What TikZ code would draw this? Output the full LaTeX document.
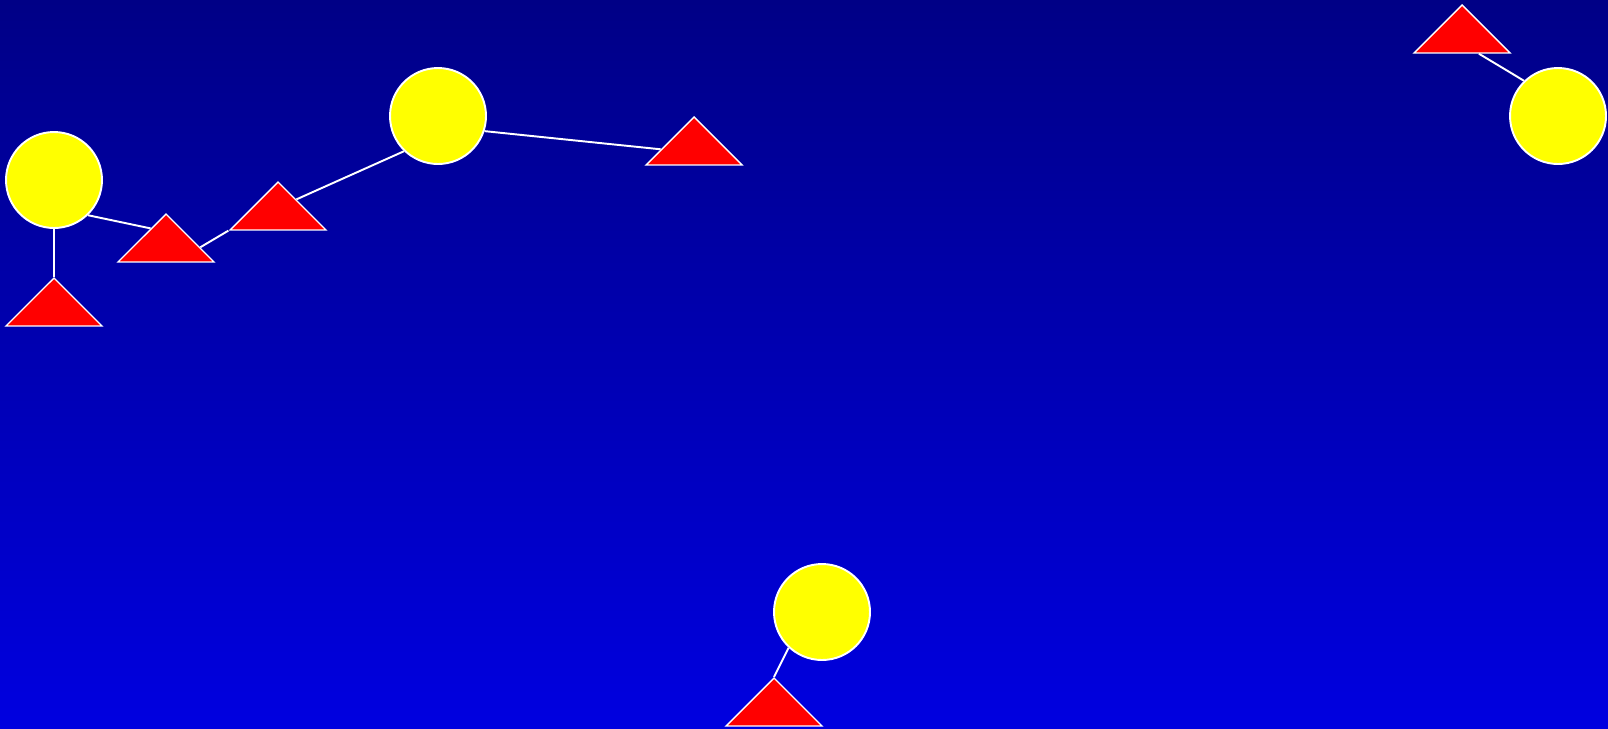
\documentclass[tikz,border=0pt]{standalone}
\usepackage{tikz}
\usetikzlibrary{
  shapes.geometric,
  calc,
}
\definecolor{skytop}{HTML}{000086}
\definecolor{skybottom}{HTML}{0000E0}
\definecolor{sunyellow}{HTML}{FFFF00}
\definecolor{peakred}{HTML}{FF0000}

\begin{document}
\begin{tikzpicture}[
    x=0.02cm, y=-0.02cm,
    sun/.style={circle, draw=white, fill=sunyellow, line width=1.1pt,
                minimum size=1.92cm, inner sep=0pt},
    peak/.style={isosceles triangle, isosceles triangle apex angle=90,
                 shape border rotate=90, draw=white, fill=peakred,
                 line width=0.8pt, inner sep=0pt, minimum height=0.96cm,
                 anchor=apex},
    link/.style={draw=white, line width=1.1pt},
  ]
  % sky
  \shade[top color=skytop, bottom color=skybottom] (0,0) rectangle (1608,728);
  \useasboundingbox (0,0) rectangle (1608,728);

  % suns
  \node[sun] (s1) at (54,180)   {};
  \node[sun] (s2) at (438,116)  {};
  \node[sun] (s3) at (1558,116) {};
  \node[sun] (s4) at (822,612)  {};

  % peaks, placed by their apex
  \node[peak] (pA) at (54,277)   {};
  \node[peak] (pB) at (166,213)  {};
  \node[peak] (pC) at (278,181)  {};
  \node[peak] (pD) at (694,116)  {};
  \node[peak] (pE) at (1462,4)   {};
  \node[peak] (pF) at (774,677)  {};

  \draw[link] (s1.south) -- (pA.apex);
  \draw[link] (s1.-46) -- ($(pB.apex)!0.31!(pB.left corner)$);
  \draw[link] ($(pB.apex)!0.69!(pB.right corner)$) -- (pC.left corner);
  \draw[link] ($(pC.apex)!0.37!(pC.right corner)$) -- (s2.226);
  \draw[link] (s2.-18) -- ($(pD.apex)!0.67!(pD.left corner)$);
  \draw[link] ($(pE.left corner)!0.67!(pE.right corner)$) -- (s3.134);
  \draw[link] (s4.227) -- (pF.apex);
\end{tikzpicture}
\end{document}
